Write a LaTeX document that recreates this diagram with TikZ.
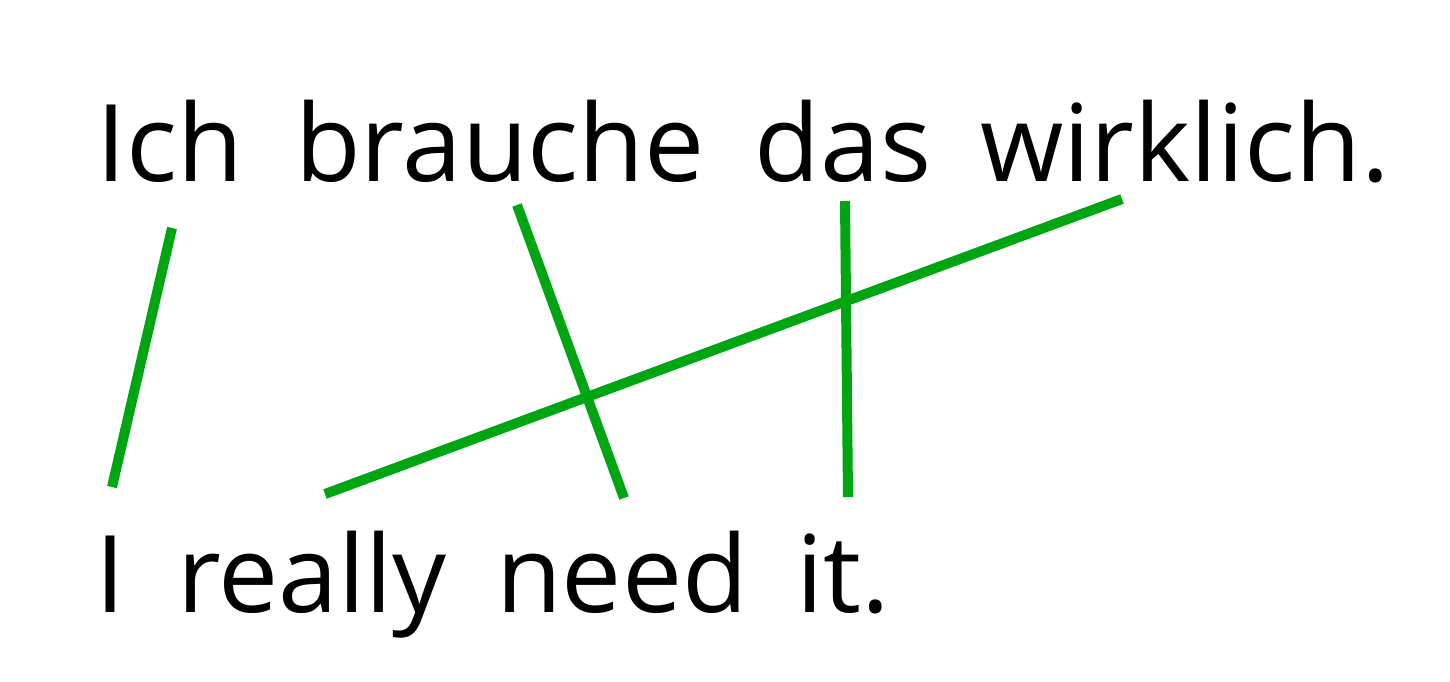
\documentclass[tikz,border=0pt]{standalone}
\usepackage{fontspec}
\setmainfont{Open Sans}
\usetikzlibrary{calc}
\definecolor{linkgreen}{RGB}{0,166,17}

\begin{document}
\begin{tikzpicture}[x=0.02cm, y=-0.02cm,
		word/.style={anchor=base, inner sep=0pt, font=\fontsize{61}{61}\selectfont},
		link/.style={draw=linkgreen, line width=0.2cm}]
				\useasboundingbox (0,0) rectangle (1450,682);
				% German sentence
				\node[word] (Ich)at(170, 182) {Ich};
				\node[word] (brauche)at(500, 182) {brauche};
				\node[word] (das)at(843, 182) {das};
				\node[word] (wirklich)at(1185, 182) {wirklich.};
				% English sentence
				\node[word] (I)at(110, 612) {I};
				\node[word] (really)at(312, 612) {really};
				\node[word] (need)at(622, 612) {need};
				\node[word] (it)at(843, 612) {it.};
				% alignment links
				\draw[link] ($(Ich.base)+(2,46)$) -- ($(I.base)+(2,-125)$);
				\draw[link] ($(brauche.base)+(17,23)$) -- ($(need.base)+(2,-114)$);
				\draw[link] ($(das.base)+(2,19)$) -- ($(it.base)+(5,-115)$);
				\draw[link] ($(wirklich.base)+(-63,17)$) -- ($(really.base)+(13,-118)$);
			\end{tikzpicture}
\end{document}
